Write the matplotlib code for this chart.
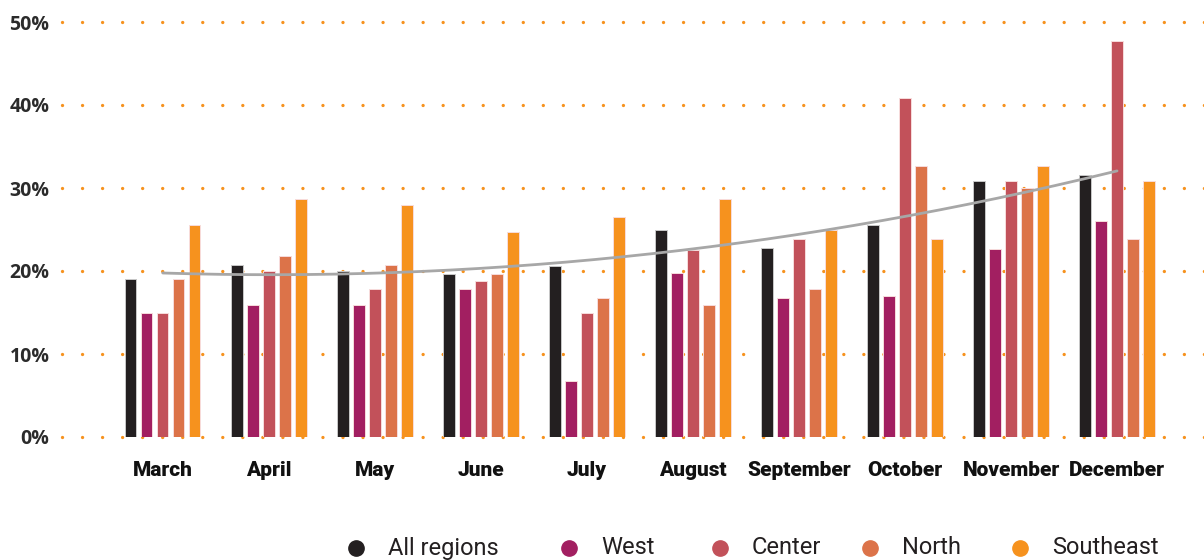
import numpy as np
import matplotlib
matplotlib.use("Agg")
import matplotlib.pyplot as plt
from matplotlib.lines import Line2D

months = ["March", "April", "May", "June", "July", "August",
          "September", "October", "November", "December"]
series_names = ["All regions", "West", "Center", "North", "Southeast"]
all_regions = [19.0, 20.7, 20.0, 19.6, 20.6, 24.9, 22.8, 25.5, 30.8, 31.6]
west        = [15.0, 15.9, 15.9, 17.8, 6.7, 19.8, 16.8, 17.0, 22.7, 26.0]
center      = [15.0, 20.0, 17.8, 18.8, 15.0, 22.5, 23.8, 40.8, 30.8, 47.7]
north       = [19.0, 21.8, 20.7, 19.6, 16.8, 15.9, 17.8, 32.7, 30.0, 23.8]
southeast   = [25.5, 28.7, 28.0, 24.7, 26.5, 28.7, 24.9, 23.8, 32.7, 30.8]
yticks = [0, 10, 20, 30, 40, 50]
ytick_labels = ["0%", "10%", "20%", "30%", "40%", "50%"]

colors = ["#231f20", "#a21f61", "#c2515a", "#dc7349", "#f6921e"]
grid_color = "#f6921e"
trend_color = "#a7a7a7"

data = [all_regions, west, center, north, southeast]

fig = plt.figure(figsize=(12.04, 5.6), dpi=100)
ax = fig.add_axes([62 / 1204, 1 - 437 / 560, 1 - 62 / 1204, (437 - 22) / 560])

x = np.arange(len(months))
step = 16 / 106
width = 11.5 / 106
for i, (vals, c) in enumerate(zip(data, colors)):
    ec = "#c8c8c8" if i == 0 else "#f7dcdc"
    ax.bar(x + (i - 2) * step, vals, width=width, color=c,
           edgecolor=ec, linewidth=0.7, zorder=3)

# quadratic trendline of All regions
coef = np.polyfit(x, all_regions, 2)
xs = np.linspace(0, len(months) - 1, 200)
ax.plot(xs, np.polyval(coef, xs), color=trend_color, lw=2.0, zorder=4,
        solid_capstyle="round")

ax.set_xlim(-0.95, 9.82)
ax.set_ylim(0, 50)
for yv in yticks:
    ax.axhline(yv, color=grid_color, lw=2.4, linestyle=(0, (0.01, 6.0)),
               dash_capstyle="round", zorder=1, clip_on=False)

ax.set_yticks(yticks)
ax.set_yticklabels(ytick_labels, fontsize=14, fontweight="bold",
                   color="#2b2b2b", family="Open Sans")
ax.tick_params(axis="y", length=0, pad=9)
ax.set_xticks(x)
ax.set_xticklabels(months, fontsize=15, fontweight="black",
                   color="#111111", family="Roboto")
ax.tick_params(axis="x", length=0, pad=17)
for s in ax.spines.values():
    s.set_visible(False)

# legend
leg_marker_x = [356, 569, 720, 870, 1020]
leg_y = 1 - 548 / 560
for name, c, mx in zip(series_names, colors, leg_marker_x):
    fig.add_artist(Line2D([mx / 1204], [leg_y], marker="o", markersize=11,
                          color=c, linestyle="none", transform=fig.transFigure))
    fig.text((mx + 32) / 1204, leg_y, name, fontsize=17, color="#231f20",
             va="center", ha="left", family="Roboto")

fig.savefig("out.png", dpi=100)
